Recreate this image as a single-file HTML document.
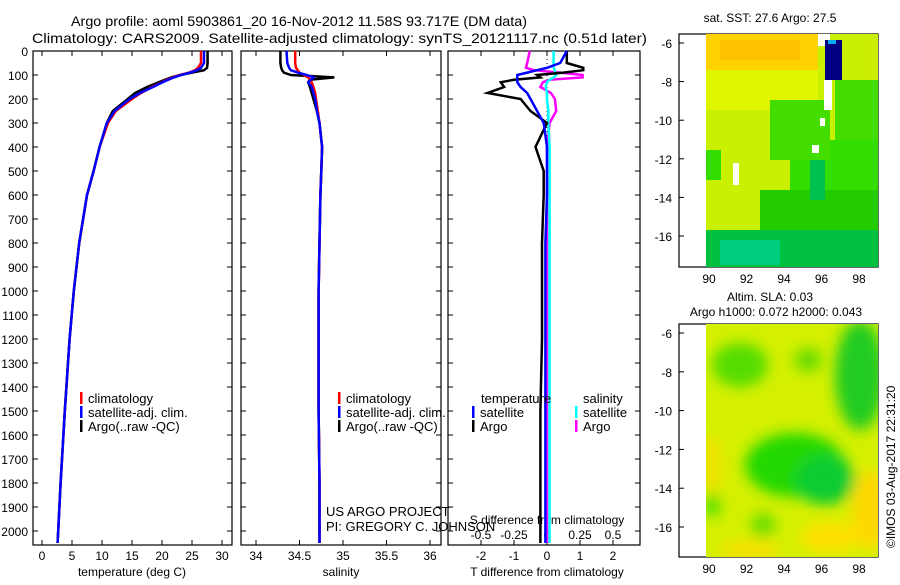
<!DOCTYPE html>
<html><head><meta charset="utf-8"><style>
body{margin:0;background:#fff;}
svg text{font-family:"Liberation Sans",sans-serif;fill:#000;}
</style></head><body>
<svg id="c" width="900" height="580" xmlns="http://www.w3.org/2000/svg">
<defs><filter id="bl" x="-20%" y="-20%" width="140%" height="140%"><feGaussianBlur stdDeviation="7"/></filter>
<clipPath id="m2"><rect x="706" y="324" width="172" height="233"/></clipPath></defs>
<text x="71" y="26" font-size="14" textLength="456" lengthAdjust="spacingAndGlyphs">Argo profile: aoml 5903861_20 16-Nov-2012 11.58S 93.717E (DM data)</text>
<text x="32" y="43" font-size="14" textLength="615" lengthAdjust="spacingAndGlyphs">Climatology: CARS2009. Satellite-adjusted climatology: synTS_20121117.nc (0.51d later)</text>
<g id="g"></g>
<g>
<rect x="706" y="34" width="172" height="233" fill="#c8f000"/>
<rect x="706" y="34" width="112" height="36" fill="#ffd200"/>
<rect x="720" y="40" width="80" height="20" fill="#ffc000"/>
<rect x="706" y="70" width="112" height="40" fill="#e0f500"/>
<rect x="790" y="140" width="88" height="125" fill="#33dd00"/>
<rect x="770" y="100" width="60" height="60" fill="#44dd00"/>
<rect x="835" y="80" width="43" height="60" fill="#44dd00"/>
<rect x="706" y="150" width="15" height="30" fill="#33dd00"/>
<rect x="760" y="190" width="118" height="40" fill="#22cc00"/>
<rect x="706" y="230" width="172" height="37" fill="#00c040"/>
<rect x="720" y="240" width="60" height="25" fill="#00cc80"/>
<rect x="810" y="160" width="15" height="40" fill="#00c050"/>
<rect x="860" y="40" width="18" height="40" fill="#ccee00"/>
<rect x="818" y="34" width="12" height="12" fill="#fff"/>
<rect x="825" y="40" width="17" height="40" fill="#000080"/>
<rect x="828" y="40" width="8" height="4" fill="#00aaee"/>
<rect x="824" y="80" width="8" height="30" fill="#fff"/>
<rect x="812" y="145" width="7" height="8" fill="#fff"/>
<rect x="733" y="163" width="6" height="22" fill="#fff"/>
<rect x="820" y="118" width="5" height="8" fill="#fff"/>
</g>
<text x="770" y="22" font-size="12" text-anchor="middle">sat. SST: 27.6 Argo: 27.5</text>
<g clip-path="url(#m2)">
<rect x="706" y="324" width="172" height="233" fill="#d4f000"/>
<g filter="url(#bl)">
<ellipse cx="740" cy="365" rx="28" ry="22" fill="#55dd00"/>
<ellipse cx="808" cy="360" rx="14" ry="12" fill="#66dd00"/>
<ellipse cx="860" cy="375" rx="25" ry="55" fill="#22cc20"/>
<ellipse cx="795" cy="465" rx="50" ry="32" fill="#22d800"/>
<ellipse cx="825" cy="480" rx="30" ry="25" fill="#11cc30"/>
<ellipse cx="870" cy="510" rx="18" ry="40" fill="#ffd800"/>
<ellipse cx="830" cy="537" rx="30" ry="15" fill="#ffe000"/>
<ellipse cx="712" cy="465" rx="10" ry="30" fill="#f0e000"/>
<ellipse cx="750" cy="550" rx="30" ry="10" fill="#f6e000"/>
<ellipse cx="763" cy="525" rx="12" ry="12" fill="#66dd00"/>
<ellipse cx="712" cy="505" rx="7" ry="12" fill="#33dd00"/>
</g></g>
<text x="770" y="301" font-size="12" text-anchor="middle">Altim. SLA: 0.03</text>
<text x="776" y="316" font-size="12" text-anchor="middle">Argo h1000: 0.072 h2000: 0.043</text>
<text transform="translate(895,548) rotate(-90)" font-size="12">©IMOS 03-Aug-2017 22:31:20</text>
</svg>
<script>
const depth=[0,50,70,80,90,100,110,120,130,150,175,200,250,300,400,500,600,800,1000,1200,1500,1800,2000,2050];
const tempClim=[26.5,26.5,26.0,25.5,24.5,23.0,21.8,20.8,20.0,18.3,16.5,15.0,12.3,11.0,9.6,8.6,7.5,6.2,5.3,4.6,3.8,3.1,2.7,2.6];
const tempSat=[27.0,27.0,26.5,25.8,24.7,23.2,22.0,21.0,20.1,18.5,16.3,14.6,12.1,10.8,9.6,8.6,7.5,6.2,5.3,4.6,3.8,3.1,2.7,2.6];
const tempArgo=[27.6,27.6,27.5,27.0,25.0,23.0,21.5,20.5,19.5,17.5,15.5,14.3,11.8,10.8,9.6,8.6,7.5,6.2,5.3,4.6,3.8,3.1,2.7,2.6];
const salClim=[34.45,34.45,34.46,34.48,34.5,34.55,34.6,34.62,34.64,34.66,34.68,34.69,34.71,34.73,34.76,34.75,34.74,34.73,34.72,34.72,34.72,34.73,34.73,34.73];
const salSat=[34.35,34.36,34.38,34.40,34.48,34.58,34.66,34.63,34.6,34.64,34.66,34.68,34.70,34.73,34.76,34.75,34.74,34.73,34.72,34.72,34.72,34.73,34.73,34.73];
const salArgo=[34.28,34.28,34.29,34.30,34.32,34.40,34.90,34.62,34.60,34.62,34.64,34.66,34.70,34.73,34.76,34.75,34.74,34.73,34.72,34.72,34.72,34.73,34.73,34.73];
const tDiffSat=[0.6,0.4,0.0,-0.3,-0.6,-0.9,-0.9,-0.9,-0.9,-0.8,-0.6,-0.5,-0.3,-0.1,0.0,0.0,0.0,-0.05,-0.05,-0.05,-0.05,-0.05,-0.05,-0.05];
const tDiffArgo=[0.6,0.6,1.1,1.1,0.5,-0.3,-0.2,-1.0,-1.4,-1.3,-1.8,-0.8,-0.5,0.0,-0.35,-0.1,-0.1,-0.15,-0.15,-0.15,-0.2,-0.2,-0.2,-0.2];
const sDiffArgo=[-0.13,-0.15,-0.16,-0.1,0.1,0.27,0.27,0.02,-0.03,-0.05,0.03,0.06,0.07,0.02,0.0,0.0,0.0,0.0,0.0,0.0,0.0,0.0,0.0,0.0];
const sDiffSat=[0.05,0.05,0.05,0.06,0.06,0.07,0.05,0.02,0.0,-0.01,0.0,0.0,0.01,0.01,0.02,0.02,0.02,0.02,0.02,0.02,0.02,0.02,0.02,0.02];
const depthTicks=[0,100,200,300,400,500,600,700,800,900,1000,1100,1200,1300,1400,1500,1600,1700,1800,1900,2000];
const tempTicks=[0,5,10,15,20,25,30];
const salTicks=[34,34.5,35,35.5,36];
const salTickLabels=["34","34.5","35","35.5","36"];
const tdTicks=[-2,-1,0,1,2];
const sdTicks=[-0.5,-0.25,0,0.25,0.5];
const sdTickLabels=["-0.5","-0.25","0","0.25","0.5"];
const latTicks=[-6,-8,-10,-12,-14,-16];
const lonTicks=[90,92,94,96,98];

const NS="http://www.w3.org/2000/svg";
const G=document.getElementById('g');
function el(t,a,p){const e=document.createElementNS(NS,t);for(const k in a)e.setAttribute(k,a[k]);(p||G).appendChild(e);return e;}
function txt(x,y,s,sz,anchor){const e=el('text',{x:x,y:y,'font-size':sz||12,'text-anchor':anchor||'start'});e.textContent=s;return e;}
const Y=d=>51+d*0.24;
const xT=v=>42+v*6, xS=v=>256+(v-34)*87, xTD=v=>547+v*33, xSD=v=>547+v*132;
const panels=[[33,232],[241,441],[448,640]];
panels.forEach((p,i)=>{
  const r=el('rect',{x:p[0],y:51,width:p[1]-p[0],height:494,fill:'none',stroke:'#000','stroke-width':1.2});
  
  
  depthTicks.forEach(d=>{el('line',{x1:p[0],x2:p[0]+5,y1:Y(d),y2:Y(d),stroke:'#000'});el('line',{x1:p[1]-5,x2:p[1],y1:Y(d),y2:Y(d),stroke:'#000'});});
});
depthTicks.forEach(d=>{const t=txt(28,Y(d)+5,String(d),12,'end');});
function xticks(ticks,f,labels){ticks.forEach((v,i)=>{const x=f(v);el('line',{x1:x,x2:x,y1:545,y2:540,stroke:'#000'});el('line',{x1:x,x2:x,y1:51,y2:56,stroke:'#000'});const t=txt(x,560,labels?labels[i]:String(v),12,'middle');});}
xticks(tempTicks,xT);xticks(salTicks,xS,salTickLabels);xticks(tdTicks,xTD);
sdTicks.forEach((v,i)=>{const t=txt(xSD(v),539,sdTickLabels[i],12,'middle');});
let at;
at=txt(132,576,'temperature (deg C)',12,'middle');
at=txt(341,576,'salinity',12,'middle');
at=txt(547,576,'T difference from climatology',12,'middle');
at=txt(547,524,'S difference from climatology',12,'middle');
el('line',{x1:547,x2:547,y1:51,y2:545,stroke:'#000','stroke-dasharray':'1,3'});
function line(vals,f,color,name,w){const pts=vals.map((v,i)=>f(v).toFixed(1)+','+Y(depth[i]).toFixed(1)).join(' ');const l=el('polyline',{points:pts,fill:'none',stroke:color,'stroke-width':w||2.5});}
line(tempArgo,xT,'#000','temp-argo-line');line(tempClim,xT,'#f00','temp-clim-line');line(tempSat,xT,'#00f','temp-sat-line');
line(salArgo,xS,'#000','sal-argo-line');line(salClim,xS,'#f00','sal-clim-line');line(salSat,xS,'#00f','sal-sat-line');
line(sDiffArgo,xSD,'#f0f','sdiff-argo-line');line(sDiffSat,xSD,'#0ff','sdiff-sat-line');
line(tDiffArgo,xTD,'#000','tdiff-argo-line');line(tDiffSat,xTD,'#00f','tdiff-sat-line');
function leg(x,y,c,label){el('rect',{x:x,y:y-11,width:2.5,height:12,fill:c});const t=txt(x+8,y,label,13);}
[[80],[338]].forEach(p=>{leg(p[0],403,'#f00','climatology');leg(p[0],417,'#00f','satellite-adj. clim.');leg(p[0],431,'#000','Argo(..raw -QC)');});
txt(481,403,'temperature',13);txt(583,403,'salinity',13);
leg(472,417,'#00f','satellite');leg(472,431,'#000','Argo');leg(575,417,'#0ff','satellite');leg(575,431,'#f0f','Argo');
txt(326,516,'US ARGO PROJECT',13);txt(326,531,'PI: GREGORY C. JOHNSON',13);
[[34,267,43,236],[324,557,333,527]].forEach((m,i)=>{
  const f=el('rect',{x:679,y:m[0],width:199,height:m[1]-m[0],fill:'none',stroke:'#000','stroke-width':1.2});
  
  latTicks.forEach(la=>{const y=m[2]+(-6-la)*(m[3]-m[2])/10;el('line',{x1:679,x2:684,y1:y,y2:y,stroke:'#000'});el('line',{x1:873,x2:878,y1:y,y2:y,stroke:'#000'});const t=txt(672,y+5,String(la),12,'end');});
  lonTicks.forEach(lo=>{const x=709+(lo-90)*18.75;el('line',{x1:x,x2:x,y1:m[0],y2:m[0]+5,stroke:'#000'});el('line',{x1:x,x2:x,y1:m[1]-5,y2:m[1],stroke:'#000'});const t=txt(x,m[1]+16,String(lo),12,'middle');});
  const cy=m[2]+5.58*(m[3]-m[2])/10;
  const c=el('circle',{cx:709+3.717*18.75,cy:cy,r:5,fill:'none',stroke:'#000'});
  
  el('circle',{cx:838,cy:cy+8,r:1,fill:'#000'});
});
</script>
</body></html>
